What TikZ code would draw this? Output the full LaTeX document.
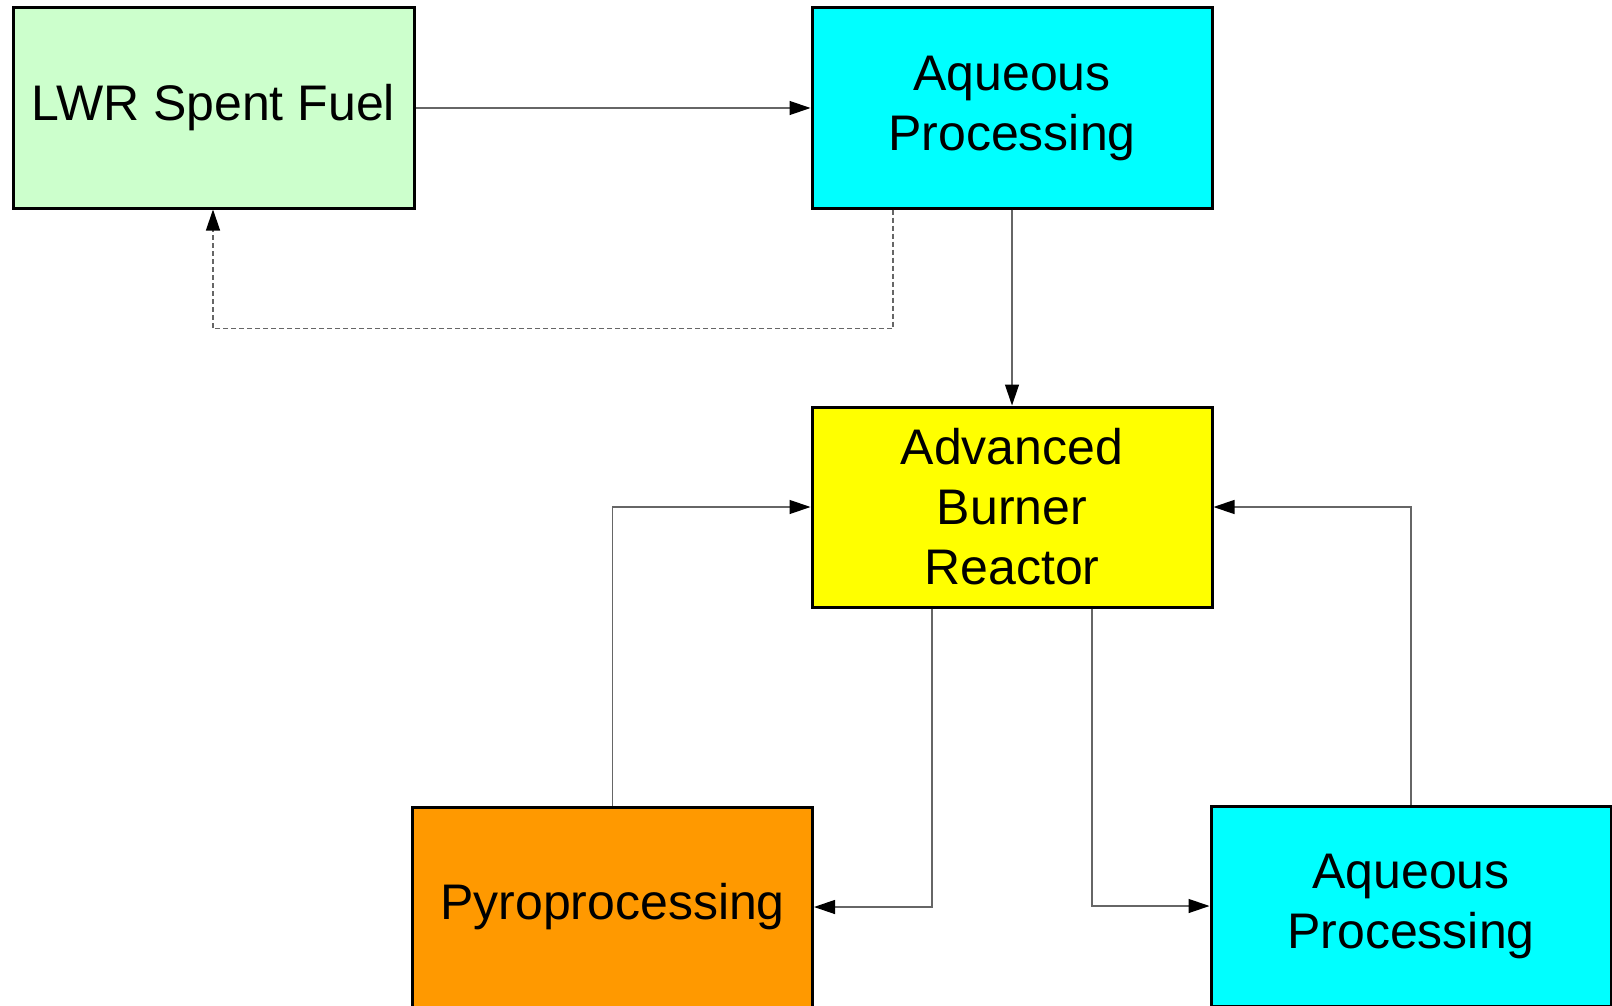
\documentclass[tikz,border=0pt]{standalone}
\usepackage{fontspec}
\setmainfont{Liberation Sans}
\usetikzlibrary{arrows.meta}
\definecolor{lwrgreen}{HTML}{CCFFCC}
\definecolor{aqcyan}{HTML}{00FFFF}
\definecolor{abryellow}{HTML}{FFFF00}
\definecolor{pyroorange}{HTML}{FF9900}
\begin{document}
\begin{tikzpicture}[x=1pt,y=-1pt,
  procbox/.style={draw=black, line width=3pt, rectangle, minimum width=400pt, minimum height=200pt,
    inner sep=0pt, align=center, font=\fontsize{50}{60}\selectfont},
  flow/.style={draw=black!60, line width=1.3pt, -{Triangle[length=21pt,width=14pt,fill=black,color=black]}},
  backflow/.style={flow, dash pattern=on 5pt off 3pt}
]
\useasboundingbox (0,0) rectangle (1612,1006);
\node[procbox, fill=lwrgreen, minimum width=401pt] (lwr) at (213.5,108) {LWR Spent Fuel};
\node[procbox, fill=aqcyan] (aqt) at (1012,108) {Aqueous\\Processing};
\node[procbox, fill=abryellow] (abr) at (1012,507) {Advanced\\Burner\\Reactor};
\node[procbox, fill=pyroorange] (pyro) at (612.5,907) {Pyroprocessing};
\node[procbox, fill=aqcyan] (aqb) at (1411,906) {Aqueous\\Processing};

\draw[flow] (lwr.east) -- (aqt.west);
\draw[flow] (aqt.south) -- (abr.north);
\draw[backflow] ([xshift=-119pt]aqt.south) -- ++(0,119) -| ([xshift=-0.5pt]lwr.south);
\draw[flow] (pyro.north) |- (abr.west);
\draw[flow] (aqb.north) |- (abr.east);
\draw[flow] ([xshift=-80pt]abr.south) |- (pyro.east);
\draw[flow] ([xshift=80pt]abr.south) |- (aqb.west);
\end{tikzpicture}
\end{document}
